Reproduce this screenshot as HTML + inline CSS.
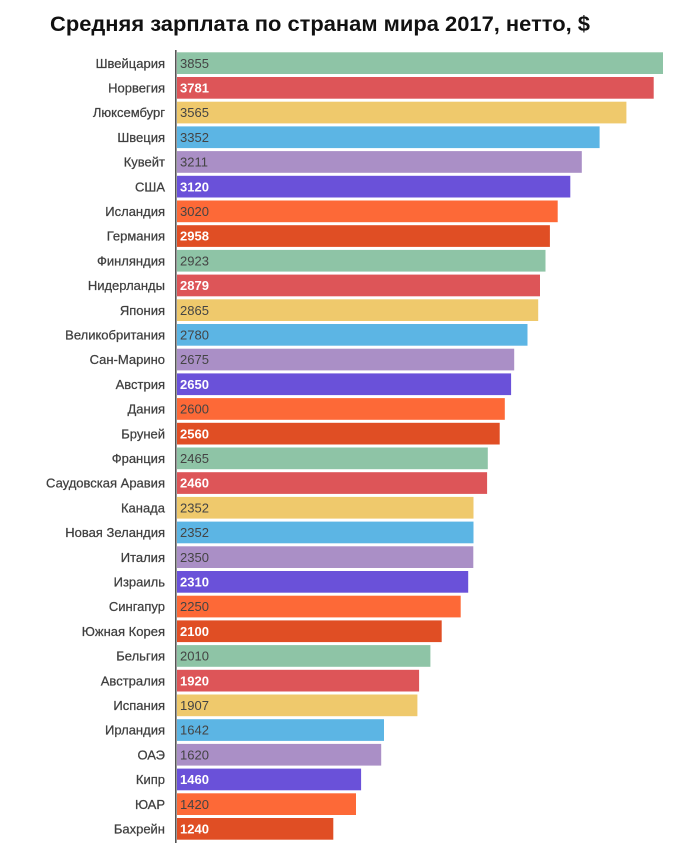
<!DOCTYPE html>
<html><head><meta charset="utf-8"><style>
html,body{margin:0;padding:0;background:#fff;}
svg{display:block;}
.l{font-family:"Liberation Sans",sans-serif;font-size:13px;fill:#3f3f3f;text-anchor:end;stroke:#3f3f3f;stroke-width:0.25;}
.v{font-family:"Liberation Sans",sans-serif;font-size:13px;fill:#444;}
.w{font-family:"Liberation Sans",sans-serif;font-size:13px;fill:#fff;font-weight:bold;}
</style></head><body>
<svg width="700" height="843" viewBox="0 0 700 843" xmlns="http://www.w3.org/2000/svg">
<rect width="700" height="843" fill="#fff"/>
<text x="50" y="31" font-family="Liberation Sans, sans-serif" font-size="21" font-weight="bold" fill="#111" textLength="540" lengthAdjust="spacingAndGlyphs">Средняя зарплата по странам мира 2017, нетто, $</text>

<g transform="translate(0,52.3)"><rect x="177" y="0" width="486.0" height="21.7" fill="#8ec4a6"/><text class="l" x="165" y="15.5">Швейцария</text><text class="v" x="180" y="15.5">3855</text></g>
<g transform="translate(0,77.0)"><rect x="177" y="0" width="476.7" height="21.7" fill="#dd5558"/><text class="l" x="165" y="15.5">Норвегия</text><text class="w" x="180" y="15.5">3781</text></g>
<g transform="translate(0,101.7)"><rect x="177" y="0" width="449.4" height="21.7" fill="#efc96c"/><text class="l" x="165" y="15.5">Люксембург</text><text class="v" x="180" y="15.5">3565</text></g>
<g transform="translate(0,126.4)"><rect x="177" y="0" width="422.6" height="21.7" fill="#5cb5e4"/><text class="l" x="165" y="15.5">Швеция</text><text class="v" x="180" y="15.5">3352</text></g>
<g transform="translate(0,151.1)"><rect x="177" y="0" width="404.8" height="21.7" fill="#aa8fc6"/><text class="l" x="165" y="15.5">Кувейт</text><text class="v" x="180" y="15.5">3211</text></g>
<g transform="translate(0,175.8)"><rect x="177" y="0" width="393.3" height="21.7" fill="#6a51d9"/><text class="l" x="165" y="15.5">США</text><text class="w" x="180" y="15.5">3120</text></g>
<g transform="translate(0,200.5)"><rect x="177" y="0" width="380.7" height="21.7" fill="#fd6937"/><text class="l" x="165" y="15.5">Исландия</text><text class="v" x="180" y="15.5">3020</text></g>
<g transform="translate(0,225.2)"><rect x="177" y="0" width="372.9" height="21.7" fill="#e04e24"/><text class="l" x="165" y="15.5">Германия</text><text class="w" x="180" y="15.5">2958</text></g>
<g transform="translate(0,249.9)"><rect x="177" y="0" width="368.5" height="21.7" fill="#8ec4a6"/><text class="l" x="165" y="15.5">Финляндия</text><text class="v" x="180" y="15.5">2923</text></g>
<g transform="translate(0,274.6)"><rect x="177" y="0" width="363.0" height="21.7" fill="#dd5558"/><text class="l" x="165" y="15.5">Нидерланды</text><text class="w" x="180" y="15.5">2879</text></g>
<g transform="translate(0,299.3)"><rect x="177" y="0" width="361.2" height="21.7" fill="#efc96c"/><text class="l" x="165" y="15.5">Япония</text><text class="v" x="180" y="15.5">2865</text></g>
<g transform="translate(0,324.0)"><rect x="177" y="0" width="350.5" height="21.7" fill="#5cb5e4"/><text class="l" x="165" y="15.5">Великобритания</text><text class="v" x="180" y="15.5">2780</text></g>
<g transform="translate(0,348.7)"><rect x="177" y="0" width="337.2" height="21.7" fill="#aa8fc6"/><text class="l" x="165" y="15.5">Сан-Марино</text><text class="v" x="180" y="15.5">2675</text></g>
<g transform="translate(0,373.4)"><rect x="177" y="0" width="334.1" height="21.7" fill="#6a51d9"/><text class="l" x="165" y="15.5">Австрия</text><text class="w" x="180" y="15.5">2650</text></g>
<g transform="translate(0,398.1)"><rect x="177" y="0" width="327.8" height="21.7" fill="#fd6937"/><text class="l" x="165" y="15.5">Дания</text><text class="v" x="180" y="15.5">2600</text></g>
<g transform="translate(0,422.8)"><rect x="177" y="0" width="322.7" height="21.7" fill="#e04e24"/><text class="l" x="165" y="15.5">Бруней</text><text class="w" x="180" y="15.5">2560</text></g>
<g transform="translate(0,447.5)"><rect x="177" y="0" width="310.8" height="21.7" fill="#8ec4a6"/><text class="l" x="165" y="15.5">Франция</text><text class="v" x="180" y="15.5">2465</text></g>
<g transform="translate(0,472.2)"><rect x="177" y="0" width="310.1" height="21.7" fill="#dd5558"/><text class="l" x="165" y="15.5">Саудовская Аравия</text><text class="w" x="180" y="15.5">2460</text></g>
<g transform="translate(0,496.9)"><rect x="177" y="0" width="296.5" height="21.7" fill="#efc96c"/><text class="l" x="165" y="15.5">Канада</text><text class="v" x="180" y="15.5">2352</text></g>
<g transform="translate(0,521.6)"><rect x="177" y="0" width="296.5" height="21.7" fill="#5cb5e4"/><text class="l" x="165" y="15.5">Новая Зеландия</text><text class="v" x="180" y="15.5">2352</text></g>
<g transform="translate(0,546.3)"><rect x="177" y="0" width="296.3" height="21.7" fill="#aa8fc6"/><text class="l" x="165" y="15.5">Италия</text><text class="v" x="180" y="15.5">2350</text></g>
<g transform="translate(0,571.0)"><rect x="177" y="0" width="291.2" height="21.7" fill="#6a51d9"/><text class="l" x="165" y="15.5">Израиль</text><text class="w" x="180" y="15.5">2310</text></g>
<g transform="translate(0,595.7)"><rect x="177" y="0" width="283.7" height="21.7" fill="#fd6937"/><text class="l" x="165" y="15.5">Сингапур</text><text class="v" x="180" y="15.5">2250</text></g>
<g transform="translate(0,620.4)"><rect x="177" y="0" width="264.7" height="21.7" fill="#e04e24"/><text class="l" x="165" y="15.5">Южная Корея</text><text class="w" x="180" y="15.5">2100</text></g>
<g transform="translate(0,645.1)"><rect x="177" y="0" width="253.4" height="21.7" fill="#8ec4a6"/><text class="l" x="165" y="15.5">Бельгия</text><text class="v" x="180" y="15.5">2010</text></g>
<g transform="translate(0,669.8)"><rect x="177" y="0" width="242.1" height="21.7" fill="#dd5558"/><text class="l" x="165" y="15.5">Австралия</text><text class="w" x="180" y="15.5">1920</text></g>
<g transform="translate(0,694.5)"><rect x="177" y="0" width="240.4" height="21.7" fill="#efc96c"/><text class="l" x="165" y="15.5">Испания</text><text class="v" x="180" y="15.5">1907</text></g>
<g transform="translate(0,719.2)"><rect x="177" y="0" width="207.0" height="21.7" fill="#5cb5e4"/><text class="l" x="165" y="15.5">Ирландия</text><text class="v" x="180" y="15.5">1642</text></g>
<g transform="translate(0,743.9)"><rect x="177" y="0" width="204.2" height="21.7" fill="#aa8fc6"/><text class="l" x="165" y="15.5">ОАЭ</text><text class="v" x="180" y="15.5">1620</text></g>
<g transform="translate(0,768.6)"><rect x="177" y="0" width="184.1" height="21.7" fill="#6a51d9"/><text class="l" x="165" y="15.5">Кипр</text><text class="w" x="180" y="15.5">1460</text></g>
<g transform="translate(0,793.3)"><rect x="177" y="0" width="179.0" height="21.7" fill="#fd6937"/><text class="l" x="165" y="15.5">ЮАР</text><text class="v" x="180" y="15.5">1420</text></g>
<g transform="translate(0,818.0)"><rect x="177" y="0" width="156.3" height="21.7" fill="#e04e24"/><text class="l" x="165" y="15.5">Бахрейн</text><text class="w" x="180" y="15.5">1240</text></g>

<line x1="175.8" y1="50" x2="175.8" y2="843" stroke="#555" stroke-width="1.6"/>
</svg>
</body></html>
